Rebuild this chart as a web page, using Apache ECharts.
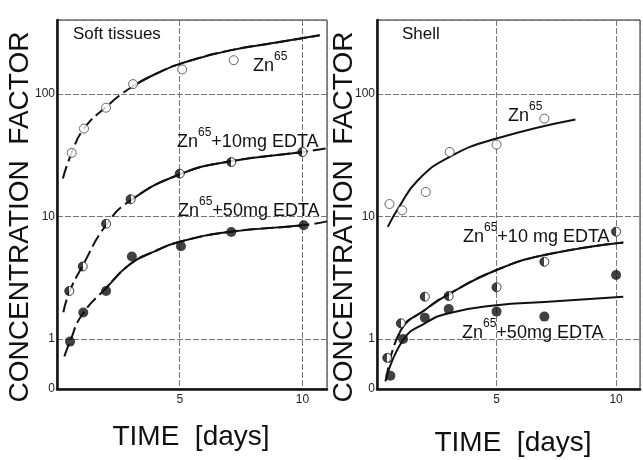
<!DOCTYPE html>
<html><head><meta charset="utf-8">
<script src="https://cdn.jsdelivr.net/npm/echarts@6/dist/echarts.min.js"></script>
<style>html,body{margin:0;padding:0;background:#fff}#c{width:643px;height:460px}</style>
</head><body><div id="c"></div>
<script>
// ---- data (days, concentration factor) ----
const xTicks = [5, 10];
const yTicks = [1, 10, 100];
// Soft tissues
const softZnPts   = [[0.6,33],[1.1,52],[2,77],[3.1,120],[5.1,158],[7.2,188]];
const soft10Pts   = [[0.5,2.46],[1.05,3.9],[2,8.7],[3,13.8],[5,22.3],[7.1,27.7],[10,33.5]];
const soft50Pts   = [[0.53,0.95],[1.07,1.64],[2,2.46],[3.05,4.7],[5.05,5.7],[7.1,7.45],[10.05,8.45]];
const softZnCurve = [[0.24,20.4],[0.6,33],[1.1,52],[2,78],[3,112],[4.2,151],[5.1,178],[7,225],[9,263],[10.7,300]];
const soft10Curve = [[0.26,1.65],[0.5,2.4],[1,3.8],[2,8.5],[3,13.5],[5,22],[7,28],[10,33.5],[11,36]];
const soft50Curve = [[0.3,0.72],[0.53,0.95],[1,1.55],[2,2.6],[3,4.1],[4,5.2],[5,6.2],[7,7.45],[10,8.45],[11,9.1]];
// Shell
const shellZnPts   = [[0.52,12.6],[1.05,11.2],[2.04,15.8],[3.04,33.5],[5,38.5],[7,62.7]];
const shell10Pts   = [[0.43,0.70],[1,1.34],[2,2.21],[3,2.24],[5,2.64],[7,4.26],[10,7.5]];
const shell50Pts   = [[0.56,0.50],[1.09,1.0],[2,1.49],[3,1.75],[5,1.67],[7,1.52],[10,3.32]];
const shellZnCurve = [[0.45,8.2],[0.92,11.9],[1.71,19.7],[3.04,30.6],[5,43.1],[8.3,61.7]];
const shell10Curve = [[0.39,0.46],[1,1.18],[2,1.72],[3,2.32],[5,3.65],[7,4.83],[10.3,6.13]];
const shell50Curve = [[0.35,0.45],[1.09,0.98],[2,1.34],[3,1.62],[5,1.88],[7,2.0],[10.3,2.21]];

const FONT = '"Liberation Sans", Arial, sans-serif';
const chart = echarts.init(document.getElementById('c'));

function xAx(gi){
  return {gridIndex:gi,type:'value',min:0,max:11,interval:5,
    axisLine:{show:true,lineStyle:{color:'#111',width:2.5}},
    axisTick:{show:false},
    axisLabel:{margin:5,fontSize:12,color:'#222',fontFamily:FONT,
      formatter:v=>xTicks.indexOf(v)>=0?String(v):''},
    splitLine:{show:true,lineStyle:{color:'#777',width:1,type:[6,2]}}};
}
function yAx(gi){
  return {gridIndex:gi,type:'log',logBase:10,min:0.39,max:400,
    axisLine:{show:true,lineStyle:{color:'#111',width:2.5}},
    axisTick:{show:false},
    axisLabel:{margin:2,fontSize:12,color:'#222',fontFamily:FONT,showMinLabel:true,showMaxLabel:false,
      formatter:v=>{ if(v<0.5) return '0'; const r=Math.round(v); return yTicks.indexOf(r)>=0?String(r):''; }},
    splitLine:{show:true,lineStyle:{color:'#777',width:1,type:[6,2]}}};
}

const series = [];
const visualMaps = [];
// a curve: dashed everywhere, with a solid copy shown only inside [lo, hi]
function curve(gi,data,lo,hi){
  const base = {type:'line',xAxisIndex:gi,yAxisIndex:gi,data:data,smooth:0.5,
    showSymbol:false,silent:true,z:2};
  if (lo === null) {
    series.push(Object.assign({},base,{lineStyle:{color:'#111',width:2,type:'solid'}}));
    return;
  }
  series.push(Object.assign({},base,{lineStyle:{color:'#111',width:2,type:[13,5]}}));
  series.push(Object.assign({},base,{lineStyle:{width:2,type:'solid'}}));
  visualMaps.push({type:'piecewise',show:false,dimension:0,seriesIndex:series.length-1,
    pieces:[{gte:lo,lte:hi,color:'#111'}],outOfRange:{color:'rgba(0,0,0,0)'}});
}
const halfFill = new echarts.graphic.LinearGradient(0,0,1,0,[
  {offset:0,color:'#111'},{offset:0.5,color:'#111'},{offset:0.5,color:'#fff'},{offset:1,color:'#fff'}]);
function pts(gi,data,kind){
  const st = kind==='open'?{color:'#fff',borderColor:'#444',borderWidth:1}
           : kind==='half'?{color:halfFill,borderColor:'#111',borderWidth:1}
           : {color:'#111',borderColor:'#111',borderWidth:0};
  series.push({type:'scatter',xAxisIndex:gi,yAxisIndex:gi,data:data,symbol:'circle',
    symbolSize:kind==='full'?10:9,itemStyle:st,z:3,silent:true});
}

curve(0,softZnCurve,3,99);
curve(0,soft10Curve,3,10);
curve(0,soft50Curve,2,10);
pts(0,softZnPts,'open'); pts(0,soft10Pts,'half'); pts(0,soft50Pts,'full');
curve(1,shellZnCurve,null,null);
curve(1,shell10Curve,0.9,99);
curve(1,shell50Curve,null,null);
pts(1,shellZnPts,'open'); pts(1,shell10Pts,'half'); pts(1,shell50Pts,'full');

function lbl(x,y,pre,sup,post){
  return {type:'text',x:x,y:y,z:10,style:{
    text:'{a|'+pre+'}{b|'+sup+'}'+(post?'{a|'+post+'}':''),
    align:'left',verticalAlign:'top',
    rich:{a:{fontSize:18,fontFamily:FONT,fill:'#111',lineHeight:24,verticalAlign:'bottom'},
          b:{fontSize:12,fontFamily:FONT,fill:'#111',lineHeight:24,verticalAlign:'top'}}}};
}
function title(x,y,text,rot){
  return {type:'text',x:x,y:y,rotation:rot||0,z:10,style:{text:text,fontSize:28,fontFamily:FONT,
    fill:'#111',align:'center',verticalAlign:'middle'}};
}

chart.setOption({
  animation:false,
  backgroundColor:'#fff',
  grid:[
    {left:57,top:20,width:270,height:369,show:true,borderColor:'#222',borderWidth:1,backgroundColor:'transparent'},
    {left:377,top:20,width:277,height:369,show:true,borderColor:'#222',borderWidth:1,backgroundColor:'transparent'}
  ],
  xAxis:[xAx(0),xAx(1)],
  yAxis:[yAx(0),yAx(1)],
  visualMap:visualMaps,
  series:series,
  graphic:[
    title(20,217,'CONCENTRATION  FACTOR',Math.PI/2),
    title(344,217,'CONCENTRATION  FACTOR',Math.PI/2),
    title(191,437,'TIME  [days]'),
    title(513,443,'TIME  [days]'),
    {type:'text',x:73,y:26,z:10,style:{text:'Soft tissues',fontSize:17,fontFamily:FONT,fill:'#111',align:'left',verticalAlign:'top'}},
    {type:'text',x:402,y:26,z:10,style:{text:'Shell',fontSize:17,fontFamily:FONT,fill:'#111',align:'left',verticalAlign:'top'}},
    lbl(253,51,'Zn','65',''),
    lbl(177,127,'Zn','65','+10mg EDTA'),
    lbl(178,196,'Zn','65','+50mg EDTA'),
    lbl(508,101,'Zn','65',''),
    lbl(463,222,'Zn','65','+10 mg EDTA'),
    lbl(462,318,'Zn','65','+50mg EDTA')
  ]
});
</script></body></html>
